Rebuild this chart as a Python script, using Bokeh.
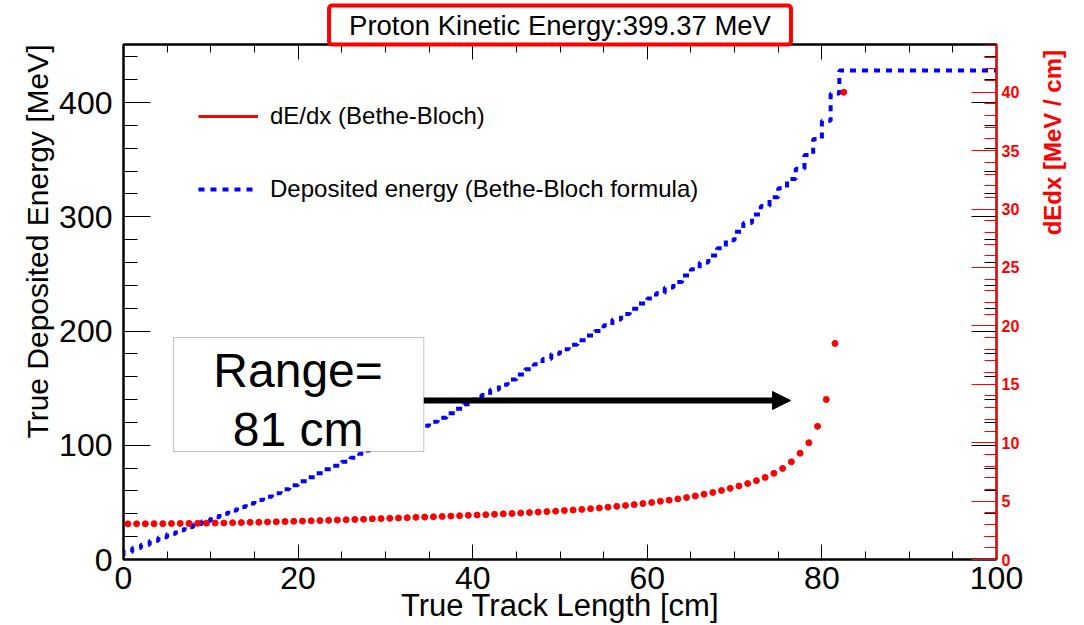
import math
from bokeh.plotting import figure
from bokeh.models import (Range1d, LinearAxis, FixedTicker, Label, Arrow, NormalHead,
                          BoxAnnotation, Legend, LegendItem, Title)
from bokeh.embed import file_html
from bokeh.resources import INLINE

# ---------------- data ----------------
title_text = "Proton Kinetic Energy:399.37 MeV"
x_title = "True Track Length [cm]"
y_title = "True Deposited Energy [MeV]"
y2_title = "dEdx [MeV / cm]"
legend_labels = ["dE/dx (Bethe-Bloch)", "Deposited energy (Bethe-Bloch formula)"]
range_lines = ["Range=", "81 cm"]

x_ticks = [0, 20, 40, 60, 80, 100]
x_minor = [5, 10, 15, 25, 30, 35, 45, 50, 55, 65, 70, 75, 85, 90, 95]
y_ticks = [0, 100, 200, 300, 400]
y_minor = [20, 40, 60, 80, 120, 140, 160, 180, 220, 240, 260, 280, 320, 340, 360, 380, 420, 440]
y2_ticks = [0, 5, 10, 15, 20, 25, 30, 35, 40]
y2_minor = [1, 2, 3, 4, 6, 7, 8, 9, 11, 12, 13, 14, 16, 17, 18, 19, 21, 22, 23, 24,
            26, 27, 28, 29, 31, 32, 33, 34, 36, 37, 38, 39, 41, 42, 43, 44]

# dE/dx points (cm, MeV/cm)
dedx_x = [0.5, 1.5, 2.5, 3.5, 4.5, 5.5, 6.5, 7.5, 8.5, 9.5,
          10.5, 11.5, 12.5, 13.5, 14.5, 15.5, 16.5, 17.5, 18.5, 19.5,
          20.5, 21.5, 22.5, 23.5, 24.5, 25.5, 26.5, 27.5, 28.5, 29.5,
          30.5, 31.5, 32.5, 33.5, 34.5, 35.5, 36.5, 37.5, 38.5, 39.5,
          40.5, 41.5, 42.5, 43.5, 44.5, 45.5, 46.5, 47.5, 48.5, 49.5,
          50.5, 51.5, 52.5, 53.5, 54.5, 55.5, 56.5, 57.5, 58.5, 59.5,
          60.5, 61.5, 62.5, 63.5, 64.5, 65.5, 66.5, 67.5, 68.5, 69.5,
          70.5, 71.5, 72.5, 73.5, 74.5, 75.5, 76.5, 77.5, 78.5, 79.5,
          80.5, 81.5, 82.5]
dedx = [3.05, 3.06, 3.06, 3.07, 3.07, 3.08, 3.09, 3.09, 3.10, 3.11,
        3.12, 3.13, 3.15, 3.16, 3.18, 3.19, 3.21, 3.23, 3.25, 3.27,
        3.29, 3.31, 3.33, 3.35, 3.38, 3.40, 3.43, 3.45, 3.48, 3.50,
        3.53, 3.55, 3.58, 3.61, 3.63, 3.66, 3.69, 3.72, 3.75, 3.78,
        3.81, 3.84, 3.87, 3.91, 3.94, 3.98, 4.02, 4.06, 4.10, 4.14,
        4.19, 4.24, 4.29, 4.35, 4.41, 4.48, 4.55, 4.62, 4.70, 4.79,
        4.88, 4.98, 5.08, 5.19, 5.31, 5.44, 5.59, 5.74, 5.91, 6.09,
        6.29, 6.50, 6.75, 7.03, 7.38, 7.80, 8.36, 9.10, 10.0, 11.4,
        13.7, 18.5, 40.0]

# deposited energy (cm, MeV)
edep_x = [0, 1, 2, 3, 4, 5, 6, 7, 8, 9,
          10, 11, 12, 13, 14, 15, 16, 17, 18, 19,
          20, 21, 22, 23, 24, 25, 26, 27, 28, 29,
          30, 31, 32, 33, 34, 35, 36, 37, 38, 39,
          40, 41, 42, 43, 44, 45, 46, 47, 48, 49,
          50, 51, 52, 53, 54, 55, 56, 57, 58, 59,
          60, 61, 62, 63, 64, 65, 66, 67, 68, 69,
          70, 71, 72, 73, 74, 75, 76, 77, 78, 79,
          80, 81, 82, 100]
edep = [3, 6.5, 10, 13, 16.5, 19.5, 22.5, 25.5, 28.5, 31,
        34, 37, 40, 43, 46, 49, 52, 55, 58, 61.5,
        65, 68.5, 72, 75.5, 79, 82, 85.5, 89, 92.5, 96,
        99.5, 103, 106.5, 110, 113.5, 117, 120.5, 124, 128, 132,
        136, 140, 144, 148.5, 153, 157.5, 162, 166.5, 171, 175.5,
        180, 184, 188, 192, 196, 200, 205, 210, 215, 219.5,
        224, 228.5, 233, 238, 243, 248.5, 254, 260, 266, 272.5,
        279.5, 287, 294.5, 302, 309.5, 317, 325, 333, 342, 354,
        368, 384, 408, 428]

# annotation geometry (data units)
box_x = [5.73, 34.4]
box_y = [94.5, 194.3]
text_x = 20.0
text_y = [165.4, 114.0]
arrow_x = [34.4, 76.4]
arrow_y = 139.2

FONT = "Liberation Sans"


def try_set(obj, name, val):
    try:
        setattr(obj, name, val)
        return True
    except Exception:
        return False


p = figure(width=1084, height=625, output_backend="svg", toolbar_location=None,
           x_range=Range1d(0, 100), y_range=Range1d(0, 450.8),
           min_border_left=123, min_border_right=88, min_border_top=44, min_border_bottom=66,
           x_axis_location=None, y_axis_location=None)
p.extra_y_ranges = {"dedx": Range1d(0, 44.09)}
p.xgrid.visible = False
p.ygrid.visible = False
p.outline_line_color = "black"
p.outline_line_width = 2
p.background_fill_color = "white"
p.border_fill_color = "white"

# title box
p.title.text = title_text
p.title.align = "center"
p.title.text_font = FONT
p.title.text_font_size = "27.5px"
p.title.text_font_style = "normal"
p.title.text_color = "black"
p.title.standoff = 0
try_set(p.title, "offset", 0)
try_set(p.title, "background_fill_color", "white")
try_set(p.title, "border_line_color", "#ff0000")
try_set(p.title, "border_line_width", 4)
try_set(p.title, "padding", (20, 4))
try_set(p.title, "border_radius", 3)


def style_axis(ax, major_in, minor_in, color="black"):
    ax.major_tick_in = major_in
    ax.major_tick_out = 0
    ax.minor_tick_in = minor_in
    ax.minor_tick_out = 0
    ax.major_tick_line_color = color
    ax.minor_tick_line_color = color
    ax.axis_line_color = color
    ax.axis_line_width = 2


# bottom axis
xb = LinearAxis(ticker=FixedTicker(ticks=x_ticks, minor_ticks=x_minor))
style_axis(xb, 15, 8)
xb.major_label_text_font = FONT
xb.major_label_text_font_size = "32px"
xb.major_label_text_color = "black"
xb.major_label_standoff = 7
xb.axis_label = x_title
xb.axis_label_text_font = FONT
xb.axis_label_text_font_size = "31px"
xb.axis_label_text_font_style = "normal"
xb.axis_label_text_color = "black"
xb.axis_label_standoff = -4
p.add_layout(xb, "below")

# top mirror axis
xt = LinearAxis(ticker=FixedTicker(ticks=x_ticks, minor_ticks=x_minor))
style_axis(xt, 15, 8)
xt.major_label_text_font_size = "0px"
xt.major_label_text_alpha = 0
xt.major_label_standoff = 0
p.add_layout(xt, "above")

# left axis
yl = LinearAxis(ticker=FixedTicker(ticks=y_ticks, minor_ticks=y_minor))
style_axis(yl, 27, 14)
yl.major_label_text_font = FONT
yl.major_label_text_font_size = "32px"
yl.major_label_text_color = "black"
yl.major_label_standoff = 11
p.add_layout(yl, "left")

# left axis title as a side title aligned to the top end
p.add_layout(Title(text=y_title, align="right", text_font=FONT, text_font_size="30px",
                   text_font_style="normal", text_color="black", standoff=5), "left")

# right mirror axis (black ticks of left scale)
yr = LinearAxis(ticker=FixedTicker(ticks=y_ticks, minor_ticks=y_minor))
style_axis(yr, 25, 12)
yr.major_label_text_font_size = "0px"
yr.major_label_text_alpha = 0
yr.major_label_standoff = 0
yr.axis_line_color = None
p.add_layout(yr, "right")

# right red dEdx axis (title reads bottom-to-top, pushed toward the top end)
y2 = LinearAxis(y_range_name="dedx", ticker=FixedTicker(ticks=y2_ticks, minor_ticks=y2_minor))
style_axis(y2, 25, 12, color="red")
y2.major_label_text_font = FONT
y2.major_label_text_font_size = "16px"
y2.major_label_text_font_style = "bold"
y2.major_label_text_color = "red"
y2.major_label_standoff = 5
y2.axis_label = "\u00a0" * 10 + y2_title
y2.axis_label_text_font = FONT
y2.axis_label_text_font_size = "24px"
y2.axis_label_text_font_style = "bold"
y2.axis_label_text_color = "#ff0000"
y2.axis_label_standoff = 30
try_set(y2, "axis_label_orientation", math.pi / 2)
p.add_layout(y2, "right")

# data
blue = p.step(edep_x, edep, mode="before", line_color="#0000ff", line_width=4, line_dash="6 6")
p.scatter(dedx_x, dedx, y_range_name="dedx", size=6, color="#ff0000")
red_leg = p.line([float("nan")], [float("nan")], line_color="#ff0000", line_width=3)

legend = Legend(items=[LegendItem(label=legend_labels[0], renderers=[red_leg]),
                       LegendItem(label=legend_labels[1], renderers=[blue])],
                location=(75, 356), orientation="vertical", border_line_color=None,
                background_fill_alpha=0, padding=0, margin=0, spacing=45,
                glyph_width=60, glyph_height=20, label_height=20, label_standoff=12,
                label_text_font=FONT, label_text_font_size="24px", label_text_color="black")
p.add_layout(legend)

# Range box + arrow
p.add_layout(BoxAnnotation(left=box_x[0], right=box_x[1], bottom=box_y[0], top=box_y[1],
                           fill_color="white", fill_alpha=1.0, line_color="#333333", line_width=1))
for t, ty in zip(range_lines, text_y):
    p.add_layout(Label(x=text_x, y=ty, text=t, text_align="center", text_baseline="middle",
                       text_font=FONT, text_font_size="48px", text_color="black"))
p.add_layout(Arrow(x_start=arrow_x[0], y_start=arrow_y, x_end=arrow_x[1], y_end=arrow_y,
                   line_width=6, line_color="black",
                   end=NormalHead(size=18, fill_color="black", line_color="black")))

open("out.html", "w").write(file_html(p, INLINE))
